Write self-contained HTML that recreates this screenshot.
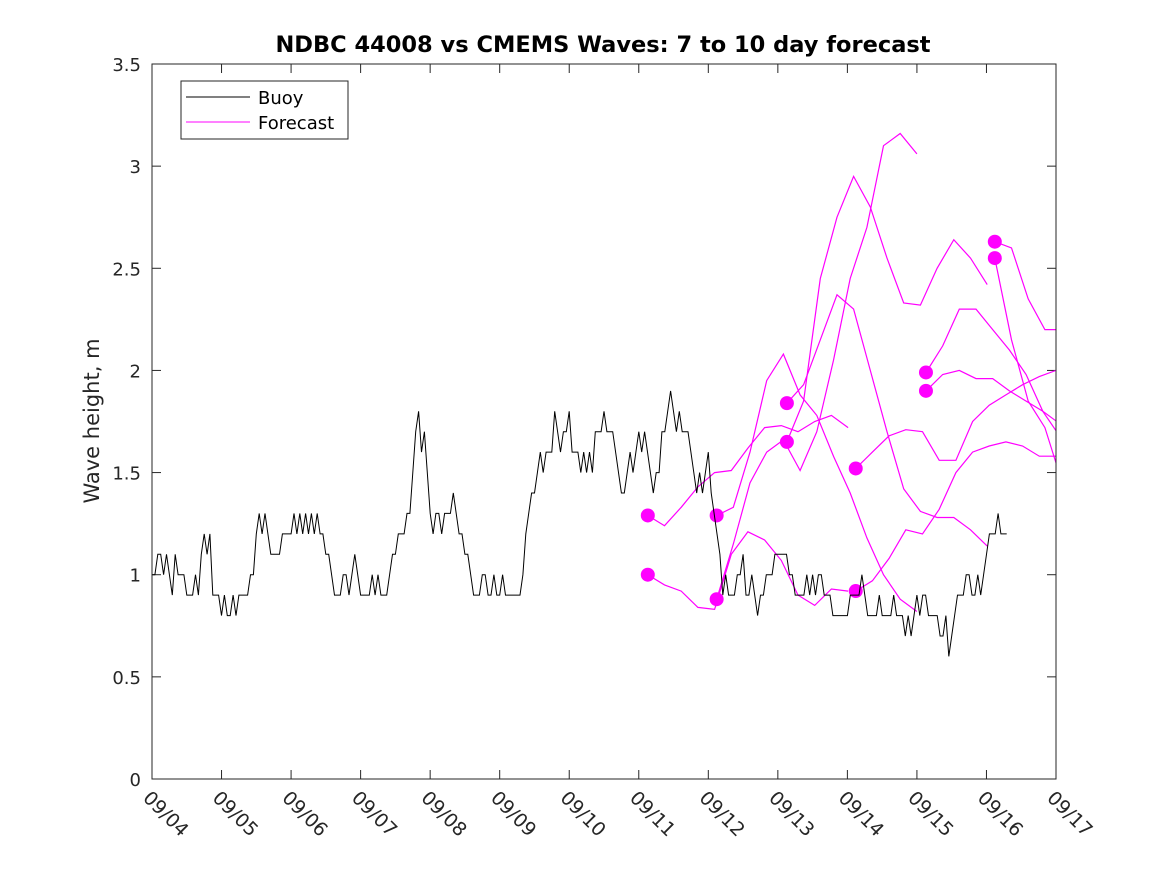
<!DOCTYPE html>
<html><head><meta charset="utf-8"><style>
html,body{margin:0;padding:0;background:#fff;}
svg{display:block;font-family:"DejaVu Sans","Liberation Sans",sans-serif;}
</style></head><body>
<svg id="chart" width="1167" height="875" viewBox="0 0 1167 875">
<rect x="0" y="0" width="1167" height="875" fill="#fff"/>
<defs><clipPath id="plotclip"><rect x="152" y="64" width="904" height="715"/></clipPath></defs>
<text x="603" y="52" text-anchor="middle" font-size="22.5" font-weight="bold" fill="#000">NDBC 44008 vs CMEMS Waves: 7 to 10 day forecast</text>
<text transform="translate(99,421) rotate(-90)" text-anchor="middle" font-size="21" fill="#262626">Wave height, m</text>
<g id="axes"></g>
<g id="series" clip-path="url(#plotclip)"></g>
<rect x="152" y="64" width="904" height="715" fill="none" stroke="#262626" stroke-width="1"/>
<g>
<rect x="181" y="81" width="167" height="58" fill="#fff" stroke="#262626" stroke-width="1"/>
<line x1="186" y1="97" x2="250" y2="97" stroke="#000" stroke-width="1"/>
<text x="258" y="104" font-size="18" fill="#000">Buoy</text>
<line x1="186" y1="122" x2="250" y2="122" stroke="#ff00ff" stroke-width="1"/>
<text x="258" y="129" font-size="18" fill="#000">Forecast</text>
</g>
</svg>
<script>
const xTickLabels = ["09/04","09/05","09/06","09/07","09/08","09/09","09/10","09/11","09/12","09/13","09/14","09/15","09/16","09/17"];
const yTickValues = [0,0.5,1,1.5,2,2.5,3,3.5];
const yTickLabels = ["0","0.5","1","1.5","2","2.5","3","3.5"];
// Buoy hourly wave heights starting 09/04 00:00
const buoyHeights = [
1.0,1.0,1.1,1.1,1.0,1.1,1.0,0.9,1.1,1.0,1.0,1.0,0.9,0.9,0.9,1.0,0.9,1.1,1.2,1.1,
1.2,0.9,0.9,0.9,0.8,0.9,0.8,0.8,0.9,0.8,0.9,0.9,0.9,0.9,1.0,1.0,1.2,1.3,1.2,1.3,
1.2,1.1,1.1,1.1,1.1,1.2,1.2,1.2,1.2,1.3,1.2,1.3,1.2,1.3,1.2,1.3,1.2,1.3,1.2,1.2,
1.1,1.1,1.0,0.9,0.9,0.9,1.0,1.0,0.9,1.0,1.1,1.0,0.9,0.9,0.9,0.9,1.0,0.9,1.0,0.9,
0.9,0.9,1.0,1.1,1.1,1.2,1.2,1.2,1.3,1.3,1.5,1.7,1.8,1.6,1.7,1.5,1.3,1.2,1.3,1.3,
1.2,1.3,1.3,1.3,1.4,1.3,1.2,1.2,1.1,1.1,1.0,0.9,0.9,0.9,1.0,1.0,0.9,0.9,1.0,0.9,
0.9,1.0,0.9,0.9,0.9,0.9,0.9,0.9,1.0,1.2,1.3,1.4,1.4,1.5,1.6,1.5,1.6,1.6,1.6,1.8,
1.7,1.6,1.7,1.7,1.8,1.6,1.6,1.6,1.5,1.6,1.5,1.6,1.5,1.7,1.7,1.7,1.8,1.7,1.7,1.7,
1.6,1.5,1.4,1.4,1.5,1.6,1.5,1.6,1.7,1.6,1.7,1.6,1.5,1.4,1.5,1.5,1.7,1.7,1.8,1.9,
1.8,1.7,1.8,1.7,1.7,1.7,1.6,1.5,1.4,1.5,1.4,1.5,1.6,1.4,1.3,1.2,1.1,0.9,1.0,0.9,
0.9,0.9,1.0,1.0,1.1,0.9,0.9,1.0,0.9,0.8,0.9,0.9,1.0,1.0,1.0,1.1,1.1,1.1,1.1,1.1,
1.0,1.0,0.9,0.9,0.9,0.9,1.0,0.9,1.0,0.9,1.0,1.0,0.9,0.9,0.9,0.8,0.8,0.8,0.8,0.8,
0.8,0.9,0.9,0.9,0.9,1.0,0.9,0.8,0.8,0.8,0.8,0.9,0.8,0.8,0.8,0.8,0.9,0.8,0.8,0.8,
0.7,0.8,0.7,0.8,0.9,0.8,0.9,0.9,0.8,0.8,0.8,0.8,0.7,0.7,0.8,0.6,0.7,0.8,0.9,0.9,
0.9,1.0,1.0,0.9,0.9,1.0,0.9,1.0,1.1,1.2,1.2,1.2,1.3,1.2,1.2,1.2
];
// Forecast start times (days since 09/04 00:00); each forecast sampled every 0.24 day
const forecastStarts = [7.13,7.13,8.12,8.12,9.13,9.13,10.12,10.12,11.13,11.13,12.12,12.12];
const forecast1 = [1.00,0.95,0.92,0.84,0.83,1.10,1.21,1.17,1.07,0.90,0.85,0.93,0.92];
const forecast2 = [1.29,1.24,1.33,1.43,1.50,1.51,1.62,1.72,1.73,1.70,1.75,1.78,1.72];
const forecast3 = [1.29,1.33,1.60,1.95,2.08,1.88,1.78,1.58,1.40,1.18,1.00,0.88,0.82];
const forecast4 = [0.88,1.15,1.45,1.60,1.66,1.51,1.70,2.05,2.45,2.70,3.10,3.16,3.06];
const forecast5 = [1.84,1.93,2.15,2.37,2.30,2.00,1.70,1.42,1.31,1.28,1.28,1.22,1.14];
const forecast6 = [1.65,1.85,2.45,2.75,2.95,2.80,2.55,2.33,2.32,2.50,2.64,2.55,2.42];
const forecast7 = [1.52,1.60,1.68,1.71,1.70,1.56,1.56,1.75,1.83,1.88,1.93,1.97,2.00];
const forecast8 = [0.92,0.97,1.08,1.22,1.20,1.32,1.50,1.60,1.63,1.65,1.63,1.58,1.58];
const forecast9 = [1.99,2.12,2.30,2.30,2.20,2.10,1.98,1.80,1.68,1.60,1.55,1.50,1.48];
const forecast10 = [1.90,1.98,2.00,1.96,1.96,1.90,1.85,1.80,1.74,1.70,1.66,1.62,1.60];
const forecast11 = [2.63,2.60,2.35,2.20,2.20,2.15,2.10,2.05,2.00,1.95,1.90,1.85,1.80];
const forecast12 = [2.55,2.15,1.85,1.72,1.46,1.30,1.20,1.15,1.10,1.05,1.00,1.00,1.00];
const forecasts = [forecast1,forecast2,forecast3,forecast4,forecast5,forecast6,forecast7,forecast8,forecast9,forecast10,forecast11,forecast12];
const forecastStep = 0.24;

const NS = "http://www.w3.org/2000/svg";
const X0=152, X1=1056, Y0=779, Y1=64, DAYS=13, YMAX=3.5;
function xScale(d){return X0 + d/DAYS*(X1-X0);}
function yScale(v){return Y0 - v/YMAX*(Y0-Y1);}
function mk(tag, attrs, parent){const e=document.createElementNS(NS,tag);for(const k in attrs)e.setAttribute(k,attrs[k]);parent.appendChild(e);return e;}

const axes=document.getElementById('axes');
xTickLabels.forEach((lab,i)=>{
  const x=xScale(i);
  let t=mk('line',{x1:x,y1:Y0,x2:x,y2:Y0-9,stroke:'#262626','stroke-width':1},axes);
  
  
  t=mk('line',{x1:x,y1:Y1,x2:x,y2:Y1+9,stroke:'#262626','stroke-width':1},axes);
  
  
  const tx=mk('text',{transform:'translate('+(x-10)+','+(Y0+20)+') rotate(45)','font-size':19,fill:'#262626'},axes);
  tx.textContent=lab;
  
  
});
yTickValues.forEach((v,i)=>{
  const y=yScale(v);
  let t=mk('line',{x1:X0,y1:y,x2:X0+9,y2:y,stroke:'#262626','stroke-width':1},axes);
  
  
  t=mk('line',{x1:X1,y1:y,x2:X1-9,y2:y,stroke:'#262626','stroke-width':1},axes);
  
  
  const tx=mk('text',{x:X0-11,y:y+7,'text-anchor':'end','font-size':18,fill:'#262626'},axes);
  tx.textContent=yTickLabels[i];
  
  
});

const series=document.getElementById('series');
forecasts.forEach((vals,i)=>{
  const s=forecastStarts[i];
  const pts=vals.map((v,k)=>xScale(s+k*forecastStep).toFixed(1)+','+yScale(v).toFixed(1)).join(' ');
  const pl=mk('polyline',{points:pts,fill:'none',stroke:'#ff00ff','stroke-width':1.2},series);
  
  
});
forecasts.forEach((vals,i)=>{
  const c=mk('circle',{cx:xScale(forecastStarts[i]),cy:yScale(vals[0]),r:7,fill:'#ff00ff'},series);
  
  
});
const bpts=buoyHeights.map((v,h)=>xScale(h/24).toFixed(1)+','+yScale(v).toFixed(1)).join(' ');
const bl=mk('polyline',{points:bpts,fill:'none',stroke:'#000','stroke-width':1},series);


</script>
</body></html>
